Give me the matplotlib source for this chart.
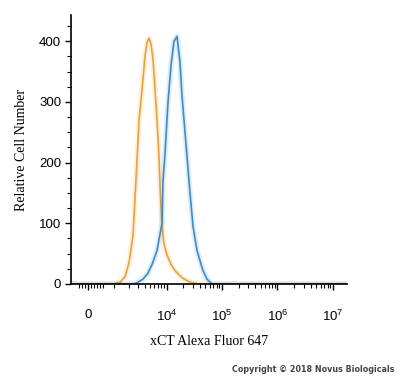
import matplotlib.pyplot as plt
import numpy as np

# fluorescence intensity (biexponential-like axis) and counts
orange_x = [-590, 948, 1357, 1704, 2043, 2434, 2652, 2897, 3153, 3585, 4063, 4426,
            4811, 5235, 5697, 6191, 6730, 7317, 7625, 8288, 9013, 10208, 12060,
            14240, 19045, 26545, 40170, 1.79e7]
orange_y = [0, 0, 3, 12, 35, 80, 140, 205, 270, 320, 375, 398,
            405, 395, 370, 320, 270, 210, 160, 97, 65, 48, 32,
            22, 10, 3, 0, 0]

blue_x = [-590, 2434, 2897, 3732, 4612, 5459, 6730, 8288, 8645, 9397, 10640, 12060,
          13655, 14600, 15475, 17525, 19045, 23440, 26545, 30055, 35470, 45490,
          53740, 66150, 1.79e7]
blue_y = [0, 0, 2, 8, 18, 32, 55, 100, 170, 215, 300, 360,
          400, 404, 408, 365, 310, 210, 150, 95, 55, 22,
          8, 0, 0]

x_major = [0, 1e4, 1e5, 1e6, 1e7]
x_labels = ["0", r"$\mathregular{10^{4}}$", r"$\mathregular{10^{5}}$",
            r"$\mathregular{10^{6}}$", r"$\mathregular{10^{7}}$"]
x_minor = [-300, -200, -100, 100, 200, 300, 400, 500, 1000]
x_minor += [k * 1000 for k in range(2, 10)]
for dec in [1e4, 1e5, 1e6]:
    x_minor += [k * dec for k in range(2, 10)]

orange = "#F0A035"
blue = "#3A8CC8"

plt.rcParams["font.family"] = ["Liberation Sans", "DejaVu Sans"]

fig = plt.figure(figsize=(4.0, 3.78), dpi=100)
ax = fig.add_axes([0.1775, 0.2487, 0.69, 0.7113])

ax.set_xscale("asinh", linear_width=771)

for xs, ys, c in [(orange_x, orange_y, orange), (blue_x, blue_y, blue)]:
    ax.plot(xs, ys, color=c, lw=4, alpha=0.15, solid_capstyle="round")
    ax.plot(xs, ys, color=c, lw=1.2)

ax.set_xlim(-590, 1.79e7)
ax.set_ylim(0, 443)

ax.set_xticks(x_major)
ax.set_xticklabels(x_labels, fontsize=9.5)
ax.set_xticks(x_minor, minor=True)
ax.set_yticks([0, 100, 200, 300, 400])
ax.set_yticks(np.arange(25, 443, 25), minor=True)
ax.tick_params(axis="y", labelsize=9.5, length=4, width=1, pad=3)
ax.tick_params(axis="y", which="minor", length=3, width=0.8)
ax.tick_params(axis="x", length=4, width=1, pad=14)
ax.tick_params(axis="x", which="minor", length=3, width=0.8)

for side in ["top", "right"]:
    ax.spines[side].set_visible(False)
for side in ["left", "bottom"]:
    ax.spines[side].set_linewidth(1.2)

ax.set_ylabel("Relative Cell Number", family="Liberation Serif", fontsize=10, labelpad=8)
ax.set_xlabel("xCT Alexa Fluor 647", family="Liberation Serif", fontsize=10, labelpad=8)

fig.text(0.985, 0.01, "Copyright © 2018 Novus Biologicals", ha="right", va="bottom",
         fontsize=5.8, fontweight="bold", color="#444444", family="DejaVu Sans")

fig.savefig("out.png", dpi=100)
